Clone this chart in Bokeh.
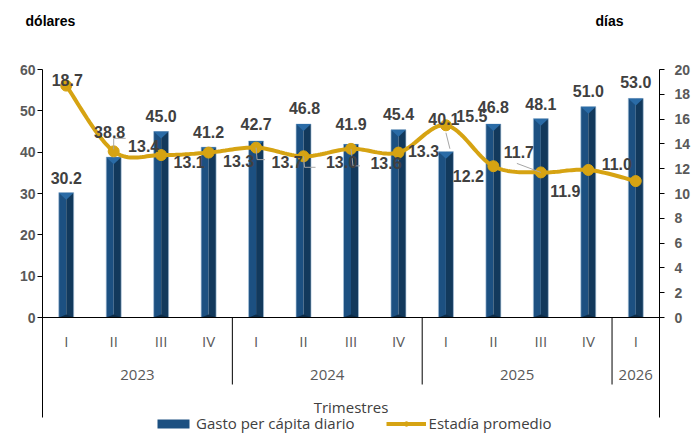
import numpy as np
from bokeh.plotting import figure
from bokeh.models import (Range1d, LinearAxis, FixedTicker, Span, Legend,
                          LegendItem, ColumnDataSource)
from bokeh.core.properties import value
from bokeh.embed import file_html
from bokeh.resources import INLINE

# ---------------- data ----------------
quarters = ["I", "II", "III", "IV", "I", "II", "III", "IV", "I", "II", "III", "IV", "I"]
years = ["2023", "2024", "2025", "2026"]
year_sizes = [4, 4, 4, 1]
gasto = [30.2, 38.8, 45.0, 41.2, 42.7, 46.8, 41.9, 45.4, 40.1, 46.8, 48.1, 51.0, 53.0]
estadia = [18.7, 13.4, 13.1, 13.3, 13.7, 13.0, 13.6, 13.3, 15.5, 12.2, 11.7, 11.9, 11.0]
usd_ticks = [0, 10, 20, 30, 40, 50, 60]
dias_ticks = [0, 2, 4, 6, 8, 10, 12, 14, 16, 18, 20]
unit_titles = ["dólares", "días"]

# ---------------- label placement (screen px, relative to anchor) ----------------
bar_lbl_dx = [0, -4, 0, 0, 0, 1, 0, 0, -2, 0, 0, 0, 0]
bar_lbl_dy = [-15, -25, -16, -15, -17, -16, -20, -16, -33, -17, -15, -16, -16]
line_lbl_dx = [1, 30, 28, 30, 31, 38, 35, 25, 26, -25, -22, -23, -19]
line_lbl_dy = [-6, -5, 7, 8, 14, 6, 14, -2, -9, 10, -20, 21, -17]
line_leaders = {1: [(0, -2), (0, -13), (12, -13)],
                4: [(0, 0), (1, 12), (9, 12)],
                5: [(0, 0), (1, 11), (12, 11)],
                6: [(0, 0), (2, 17), (9, 17)],
                10: [(-24, -9), (0, 0)]}
bar_leaders = {8: [(0, -19), (4, -3)]}

# ---------------- layout ----------------
W, H = 693, 433
BL, BR, BT = 42, 33, 40
FW = W - BL - BR
N = len(gasto)
PX_CAT = FW / N
ZERO = 317               # page y pixel of value 0
PX_USD = 248 / 60        # pixels per dollar
RATIO = 3.0              # dollars per day on the two axes


def usd_at(py):
    return (ZERO - py) / PX_USD


def x_at(px):
    return (px - BL) / PX_CAT


y0, y1 = usd_at(H), usd_at(BT)
xs = [i + 0.5 for i in range(N)]

GOLD = "#D6A312"
LAB = "#404040"
TICK = "#595959"
CAT_FONT = "Open Sans"

p = figure(width=W, height=H, x_range=Range1d(0, N), y_range=Range1d(y0, y1),
           x_axis_location=None, y_axis_location=None, toolbar_location=None,
           output_backend="svg", min_border_left=BL, min_border_right=BR,
           min_border_top=BT, min_border_bottom=0, outline_line_color=None,
           background_fill_color="white", border_fill_color="white")
p.xgrid.visible = False
p.ygrid.visible = False
p.extra_y_ranges = {"dias": Range1d(y0 / RATIO, y1 / RATIO)}

bottom_line = usd_at(417)

# value axes
la = LinearAxis(ticker=FixedTicker(ticks=usd_ticks), bounds=(bottom_line, 60))
ra = LinearAxis(ticker=FixedTicker(ticks=dias_ticks), y_range_name="dias",
                bounds=(bottom_line / RATIO, 20))
for ax, st in ((la, 2), (ra, 10)):
    ax.axis_line_color = "black"
    ax.axis_line_width = 1
    ax.major_tick_line_color = "black"
    ax.major_tick_out = 5
    ax.major_tick_in = 0
    ax.minor_tick_out = 0
    ax.minor_tick_in = 0
    ax.major_label_text_font = "Liberation Sans"
    ax.major_label_text_font_style = "bold"
    ax.major_label_text_font_size = "14px"
    ax.major_label_text_color = TICK
    ax.major_label_standoff = st
p.add_layout(la, "left")
p.add_layout(ra, "right")

# unit titles as an axis above the plot
tpos = [round(x_at(50), 3), round(x_at(610), 3)]
ta = LinearAxis(ticker=FixedTicker(ticks=tpos),
                major_label_overrides={tpos[0]: unit_titles[0], tpos[1]: unit_titles[1]})
ta.axis_line_color = None
ta.major_tick_line_color = None
ta.major_tick_out = 0
ta.major_tick_in = 0
ta.minor_tick_line_color = None
ta.major_label_standoff = 12
ta.major_label_text_font = "Liberation Sans"
ta.major_label_text_font_style = "bold"
ta.major_label_text_font_size = "14px"
ta.major_label_text_color = "black"
p.add_layout(ta, "above")

p.add_layout(Span(location=0, dimension="width", line_color="black", line_width=1))

# ---------------- bars (3D look) ----------------
BW = 15 / PX_CAT
bar_left = p.vbar(x=[x - BW / 4 for x in xs], width=BW / 2, top=gasto, bottom=0,
                  fill_color="#1C5081", line_color=None)
p.vbar(x=[x + BW / 4 for x in xs], width=BW / 2, top=gasto, bottom=0,
       fill_color="#12395C", line_color=None)
p.vbar(x=xs, width=BW, top=gasto, bottom=0, fill_color=None,
       line_color="#A9C3DC", line_width=0.8, line_alpha=0.8)
cap = 7 / PX_USD
p.patches(xs=[[x - BW / 2, x + BW / 2, x] for x in xs],
          ys=[[v, v, v - cap] for v in gasto],
          fill_color="#2A6BA6", line_color=None)
base = 3 / PX_USD
p.patches(xs=[[x - BW / 2, x + BW / 2, x] for x in xs],
          ys=[[0, 0, base] for _ in xs],
          fill_color="#0D2C48", line_color=None)


# ---------------- smoothed line ----------------
def smooth(px, py, n=20):
    pts = np.column_stack([px, py]).astype(float)
    ox, oy = [], []
    m = len(pts)
    for i in range(m - 1):
        p0 = pts[i - 1] if i > 0 else pts[i]
        p1, p2 = pts[i], pts[i + 1]
        p3 = pts[i + 2] if i + 2 < m else pts[i + 1]
        c1 = p1 + (p2 - p0) / 6.0
        c2 = p2 - (p3 - p1) / 6.0
        for t in np.linspace(0, 1, n, endpoint=(i == m - 2)):
            b = ((1 - t) ** 3) * p1 + 3 * ((1 - t) ** 2) * t * c1 + 3 * (1 - t) * t * t * c2 + t ** 3 * p2
            ox.append(b[0])
            oy.append(b[1])
    return ox, oy


sx, sy = smooth(xs, estadia)
line_r = p.line(sx, sy, line_color=GOLD, line_width=4, y_range_name="dias")
mark_r = p.scatter(xs, estadia, size=11, fill_color=GOLD, line_color=GOLD,
                   y_range_name="dias")

# ---------------- leader lines ----------------
lx, ly = [], []
for i, pts in line_leaders.items():
    lx.append([xs[i] + dx / PX_CAT for dx, dy in pts])
    ly.append([(estadia[i] * RATIO - dy / PX_USD) for dx, dy in pts])
for i, pts in bar_leaders.items():
    lx.append([xs[i] + dx / PX_CAT for dx, dy in pts])
    ly.append([gasto[i] - dy / PX_USD for dx, dy in pts])
p.multi_line(xs=lx, ys=ly, line_color="#A6A6A6", line_width=1)

# ---------------- data labels ----------------
bar_src = ColumnDataSource(dict(x=xs, y=gasto, t=[f"{v:.1f}" for v in gasto],
                                dx=bar_lbl_dx, dy=bar_lbl_dy))
p.text(x="x", y="y", text="t", x_offset="dx", y_offset="dy", source=bar_src,
       text_align="center", text_baseline="middle", text_font=value("Liberation Sans"),
       text_font_style="bold", text_font_size="16px", text_color=LAB)
line_src = ColumnDataSource(dict(x=xs, y=estadia, t=[f"{v:.1f}" for v in estadia],
                                 dx=line_lbl_dx, dy=line_lbl_dy))
p.text(x="x", y="y", text="t", x_offset="dx", y_offset="dy", source=line_src,
       y_range_name="dias", text_align="center", text_baseline="middle",
       text_font=value("Liberation Sans"), text_font_style="bold",
       text_font_size="16px", text_color=LAB)

# ---------------- category axis (two levels) ----------------
p.text(x=xs, y=[usd_at(340)] * N, text=quarters, text_align="center",
       text_baseline="middle", text_font=value(CAT_FONT), text_font_size="15px",
       text_color=TICK)
ycent, bounds_x, acc = [], [], 0
for s in year_sizes:
    ycent.append(acc + s / 2)
    acc += s
    bounds_x.append(acc)
p.text(x=ycent, y=[usd_at(374)] * len(years), text=years, text_align="center",
       text_baseline="middle", text_font=value(CAT_FONT), text_font_size="15px",
       text_color=TICK)
seps = bounds_x[:-1]
p.segment(x0=seps, y0=[0] * len(seps), x1=seps, y1=[usd_at(384)] * len(seps),
          line_color="black", line_width=1)
p.text(x=[N / 2], y=[usd_at(406)], text=["Trimestres"], text_align="center",
       text_baseline="middle", text_font=value(CAT_FONT), text_font_size="15px",
       text_color=LAB)

# ---------------- legend ----------------
legend = Legend(items=[LegendItem(label="Gasto per cápita diario", renderers=[bar_left]),
                       LegendItem(label="Estadía promedio", renderers=[line_r, mark_r])],
                orientation="horizontal", location=(111, 0),
                background_fill_alpha=0, border_line_color=None,
                label_text_font=CAT_FONT, label_text_font_size="15px",
                label_text_color=LAB, glyph_width=40, glyph_height=11,
                label_standoff=3, spacing=31, padding=0, margin=0,
                label_height=18)
p.add_layout(legend, "center")

open("out.html", "w").write(file_html(p, INLINE))
